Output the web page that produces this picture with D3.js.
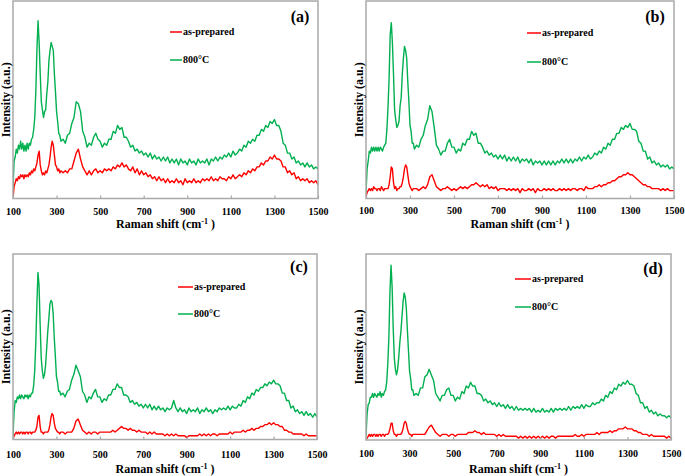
<!DOCTYPE html>
<html><head><meta charset="utf-8">
<script src="https://cdn.jsdelivr.net/npm/d3@7"></script>
<style>
body{margin:0;background:#fff}
svg{display:block}
text{font-family:"Liberation Serif","Times New Roman",serif;font-weight:bold;fill:#000}
</style>
</head><body>
<svg id="chart" width="685" height="476"></svg>
<script>
// Raman shift grid (cm^-1)
const ramanShift = [
100,105,110,115,120,125,130,135,140,145,
150,155,160,165,170,175,180,185,190,195,
200,205,210,215,220,225,230,235,240,245,
250,255,260,265,270,275,280,285,290,295,
300,305,310,315,320,
330,340,350,360,370,380,390,400,410,420,
430,440,450,460,470,480,490,500,510,520,
530,540,550,560,570,580,590,600,610,620,
630,640,650,660,670,680,690,700,710,720,
730,740,750,760,770,780,790,800,810,820,
830,840,850,860,870,880,890,900,910,920,
930,940,950,960,970,980,990,1000,1010,1020,
1030,1040,1050,1060,1070,1080,1090,1100,1110,1120,
1130,1140,1150,1160,1170,1180,1190,1200,1210,1220,
1230,1240,1250,1260,1270,1280,1290,1300,1310,1320,
1330,1340,1350,1360,1370,1380,1390,1400,1410,1420,
1430,1440,1450,1460,1470,1480,1490,1500];

const xTicks = [100,300,500,700,900,1100,1300,1500];
const seriesNames = ["as-prepared","800°C"];
const panelLabels = ["(a)","(b)","(c)","(d)"];

// Intensities (a.u., 0-100 of plot height)
const asPreparedA = [
0,6,8,10,9,11,10,12,11,12,
10,12,11,12,11,13,12,14,13,15,
14,16,18,22,24,17,14,12,13,12,
14,13,15,17,21,26,29,27,22,17,
16,14,15,13,14,
13,14,13,15,15,19,23,25,20,16,
14,12,14,12,14,15,13,14,13,15,
14,15,14,16,15,17,16,18,16,17,
15,14,16,13,15,12,14,12,13,11,
12,10,11,9,11,9,10,8,10,8,
9,8,10,8,9,7,10,8,9,8,
10,8,9,8,10,9,10,9,11,9,
10,9,11,10,10,9,11,10,12,10,
11,12,11,13,12,14,13,15,14,16,
16,18,17,19,19,21,20,22,20,20,
19,16,16,13,14,12,13,10,11,9,
10,9,10,8,9,8,9,7];
const annealedA = [
5,19,21,25,23,27,25,29,25,28,
24,27,24,28,25,28,27,30,31,35,
41,55,76,90,79,63,49,45,41,44,
45,53,59,70,75,79,77,75,63,54,
44,39,33,32,29,
30,28,32,33,38,41,49,48,44,34,
31,26,28,27,31,33,30,29,26,28,
27,30,30,34,33,37,35,36,31,31,
29,26,27,24,25,23,24,22,23,21,
23,20,22,20,21,19,21,19,21,18,
20,18,20,17,20,18,19,17,20,18,
19,17,20,18,19,18,20,17,20,19,
21,19,21,20,22,21,23,21,24,22,
23,25,24,27,26,29,28,30,29,32,
32,35,34,37,36,39,38,40,37,37,
34,28,27,23,23,20,21,18,19,17,
18,16,18,16,17,15,16,15];

const asPreparedB = [
1,3,4,5,4,5,4,6,5,5,
4,5,5,4,6,5,4,5,5,5,
5,7,11,16,15,8,5,6,4,5,
5,6,6,8,11,15,17,16,12,8,
6,5,4,5,5,
5,4,5,6,5,7,11,12,9,6,
5,4,5,5,6,5,4,5,4,5,
6,5,6,5,6,7,7,8,7,6,
7,6,7,5,6,5,6,4,5,5,
5,4,5,4,5,4,5,3,5,4,
4,5,4,5,3,5,4,4,5,4,
5,4,5,4,4,5,4,5,4,5,
4,5,5,4,5,5,4,6,5,5,
5,6,6,7,6,7,7,8,8,9,
9,10,11,11,12,12,13,12,12,11,
10,9,8,7,7,6,6,5,5,5,
5,4,5,4,5,4,4,4];
const annealedB = [
3,15,19,24,23,26,24,26,24,26,
24,26,24,26,25,24,26,27,28,35,
46,61,83,89,79,63,45,40,36,37,
39,47,51,63,71,77,75,71,59,49,
37,34,28,28,25,
27,26,30,32,37,40,47,44,36,27,
25,22,24,24,28,30,26,26,23,25,
24,28,27,30,30,34,32,33,28,28,
26,23,24,22,23,21,22,20,22,20,
22,19,21,19,21,19,21,18,20,19,
20,18,20,17,19,18,19,17,19,17,
19,17,19,17,19,18,20,18,20,18,
20,18,20,19,21,19,21,20,22,20,
21,23,22,24,23,26,25,28,27,30,
30,33,33,36,35,37,36,38,35,35,
34,29,28,24,24,20,21,18,19,17,
18,16,17,16,17,15,16,15];

const asPreparedC = [
0,2,3,4,3,4,3,4,4,3,
4,3,4,4,3,4,4,3,4,4,
4,5,7,12,13,7,4,4,3,4,
4,4,4,5,8,12,14,13,9,6,
5,4,4,3,4,
4,3,4,4,4,6,10,11,8,5,
4,3,4,3,4,4,3,4,4,4,
4,4,4,5,4,5,6,7,6,6,
5,6,5,5,4,5,4,4,4,3,
4,3,4,3,3,3,3,2,3,2,
3,2,3,2,2,2,2,1,2,2,
2,2,2,3,2,3,2,3,2,3,
3,2,3,3,3,3,3,4,3,4,
4,4,4,5,4,5,5,6,5,6,
6,7,7,8,8,9,8,9,8,8,
7,7,5,5,4,4,3,3,3,3,
3,2,3,2,2,2,2,2];
const annealedC = [
2,15,21,20,23,22,24,22,24,23,
22,24,23,24,22,24,23,25,25,29,
37,52,73,90,83,62,44,37,33,35,
40,49,58,65,73,75,74,68,55,45,
34,31,26,26,24,
25,23,26,27,32,35,40,37,34,26,
24,20,23,22,25,27,23,23,20,22,
21,24,24,27,27,30,28,28,24,24,
23,20,21,19,20,18,19,17,19,17,
19,16,18,16,18,16,17,15,17,16,
17,21,17,15,17,15,16,14,17,15,
16,15,17,14,16,15,17,15,16,14,
16,15,17,16,17,16,18,16,18,17,
17,19,18,21,20,23,22,25,24,27,
26,28,28,30,29,31,30,32,30,30,
29,25,25,21,21,17,18,15,16,14,
15,13,15,13,14,12,14,12];

const asPreparedD = [
0,1,2,3,2,3,2,3,3,2,
3,2,3,3,2,3,3,2,3,3,
3,4,6,9,9,5,3,3,2,3,
3,3,3,4,6,9,10,9,6,4,
3,3,2,3,3,
3,3,3,3,3,5,7,8,6,4,
3,2,3,3,3,2,3,3,2,3,
3,3,3,3,4,4,4,5,4,4,
3,4,3,3,3,3,3,2,3,2,
3,2,2,2,2,2,2,1,2,1,
2,1,2,1,2,1,2,1,2,1,
2,1,2,2,1,2,2,2,2,2,
2,2,2,3,2,2,3,2,3,3,
3,3,3,4,3,4,4,4,4,5,
4,5,5,6,6,6,7,6,6,6,
5,5,4,4,3,3,3,2,3,2,
2,2,2,2,2,1,2,1];
const annealedD = [
2,14,19,20,23,23,25,23,25,24,
23,25,24,26,23,25,24,26,27,31,
41,55,80,94,82,60,44,38,35,38,
44,52,58,66,74,79,77,71,59,48,
37,33,27,27,24,
25,24,28,28,34,35,38,35,32,25,
23,21,24,24,27,28,24,24,21,23,
22,26,25,29,28,31,29,29,25,25,
24,21,22,20,21,19,20,18,20,18,
19,17,19,17,18,16,18,16,17,16,
17,16,17,15,17,15,16,15,17,15,
16,15,17,15,17,16,17,16,17,16,
18,16,18,17,18,17,19,17,19,18,
18,20,19,20,20,22,21,24,23,26,
25,28,27,30,29,31,30,32,30,30,
29,25,24,20,20,17,18,15,16,14,
15,13,14,13,13,12,13,12];

const colors = {red:"#ff0000", green:"#00b050"};

const panels = [
  {label:panelLabels[0], red:asPreparedA, green:annealedA,
   box:{l:13,r:318,t:1,b:198.5}, tickY:214.5, titleY:227.5, yLabX:10,
   lab:{x:300,y:22}, leg:{x1:170,x2:182,y1:32,y2:60}},
  {label:panelLabels[1], red:asPreparedB, green:annealedB,
   box:{l:366,r:674,t:1,b:198.5}, tickY:214, titleY:227.5, yLabX:363,
   lab:{x:655,y:22}, leg:{x1:527,x2:541,y1:33,y2:62}},
  {label:panelLabels[2], red:asPreparedC, green:annealedC,
   box:{l:13,r:317,t:254,b:439.5}, tickY:457.5, titleY:473, yLabX:10,
   lab:{x:299,y:272}, leg:{x1:178,x2:193,y1:287,y2:314}},
  {label:panelLabels[3], red:asPreparedD, green:annealedD,
   box:{l:366,r:671,t:254,b:440}, tickY:456.5, titleY:473, yLabX:363,
   lab:{x:653,y:274}, leg:{x1:515,x2:531,y1:279,y2:307}}
];

const svg = d3.select("#chart");

panels.forEach((p,i) => {
  const b = p.box;
  const x = d3.scaleLinear().domain([100,1500]).range([b.l,b.r]);
  const y = d3.scaleLinear().domain([0,100]).range([b.b,b.t]);
  const g = svg.append("g");

  g.append("clipPath").attr("id","clip"+i).append("rect")
    .attr("x",b.l).attr("y",b.t).attr("width",b.r-b.l).attr("height",b.b-b.t);

  const line = d3.line().x((d,j)=>x(ramanShift[j])).y(d=>y(d));

  g.append("path").datum(p.red).attr("clip-path","url(#clip"+i+")")
    .attr("fill","none").attr("stroke",colors.red).attr("stroke-width",1.4)
    .attr("stroke-linejoin","round").attr("d",line);
  g.append("path").datum(p.green).attr("clip-path","url(#clip"+i+")")
    .attr("fill","none").attr("stroke",colors.green).attr("stroke-width",1.4)
    .attr("stroke-linejoin","round").attr("d",line);

  // frame
  g.append("rect").attr("x",b.l).attr("y",b.t).attr("width",b.r-b.l).attr("height",b.b-b.t)
    .attr("fill","none").attr("stroke","#a9a9a9").attr("stroke-width",1.5);

  // x axis ticks (inward) and labels
  const ax = g.append("g").attr("transform",`translate(0,${b.b})`)
    .call(d3.axisBottom(x).tickValues(xTicks).tickSizeInner(-3).tickSizeOuter(0).tickPadding(0).tickFormat(d3.format("d")));
  ax.select(".domain").remove();
  ax.selectAll(".tick line").attr("stroke","#a9a9a9").attr("stroke-width",1.2);
  ax.selectAll(".tick text").attr("y",p.tickY-b.b).attr("dy",null)
    .style("font-family",'"Liberation Serif","Times New Roman",serif')
    .style("font-weight","bold").style("font-size","10px").attr("fill","#000");

  // x title
  const t = g.append("text").attr("x",(b.l+b.r)/2).attr("y",p.titleY)
    .attr("text-anchor","middle").style("font-size","12px");
  t.append("tspan").text("Raman shift (cm");
  t.append("tspan").attr("dy",-4).style("font-size","8px").text("-1");
  t.append("tspan").attr("dy",4).text(" )");

  // y title
  g.append("text").attr("transform",`translate(${p.yLabX},${(b.t+b.b)/2}) rotate(-90)`)
    .attr("text-anchor","middle").style("font-size","12px").text("Intensity (a.u.)");

  // panel label
  g.append("text").attr("x",p.lab.x).attr("y",p.lab.y).attr("text-anchor","middle")
    .style("font-size","16px").text(p.label);

  // legend
  const L = p.leg;
  [[L.y1,colors.red,seriesNames[0]],[L.y2,colors.green,seriesNames[1]]].forEach(([yy,c,name])=>{
    g.append("line").attr("x1",L.x1).attr("x2",L.x2).attr("y1",yy).attr("y2",yy)
      .attr("stroke",c).attr("stroke-width",1.5);
    g.append("text").attr("x",L.x2+1).attr("y",yy+3).style("font-size","10px").text(name);
  });
});
</script>
</body></html>
